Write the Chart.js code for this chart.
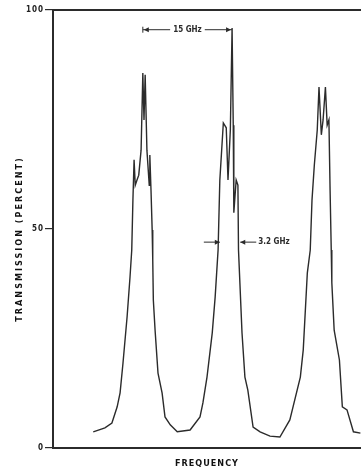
<!DOCTYPE html>
<html>
<head>
<meta charset="utf-8">
<script src="https://cdn.jsdelivr.net/npm/chart.js@4"></script>
<style>
  html, body { margin: 0; padding: 0; background: #fff; }
  #wrap { width: 361px; height: 471px; }
</style>
</head>
<body>
<div id="wrap"><canvas id="transmission"></canvas></div>
<script>
// frequency (GHz, arbitrary origin) and transmission (percent)
var freqGHz = [6.9, 8.9, 10.1, 11.0, 11.5, 12.0, 12.7, 13.2, 13.5, 13.7, 13.9, 14.1, 14.4, 14.7, 15.1, 15.4, 15.6, 15.8, 16.1, 16.5, 16.6, 16.8, 17.0, 17.1, 17.2, 17.5, 18.0, 18.7, 19.2, 20.1, 21.3, 23.5, 25.2, 25.7, 26.4, 27.3, 27.8, 28.3, 28.6, 29.2, 29.7, 30.0, 30.4, 30.7, 30.9, 31.0, 31.4, 31.7, 31.8, 32.4, 32.9, 33.4, 34.3, 35.5, 37.2, 38.9, 40.6, 42.4, 42.9, 43.6, 44.1, 44.4, 44.8, 45.3, 45.6, 46.0, 46.3, 46.7, 47.0, 47.3, 47.5, 47.7, 47.8, 48.2, 49.1, 49.6, 50.4, 51.5, 52.7];
var transmission = [3.7, 4.6, 5.7, 9.4, 12.6, 19.4, 29.9, 39.0, 45.2, 56.6, 65.8, 60.0, 61.2, 62.3, 68.0, 85.6, 74.9, 85.2, 68.0, 60.0, 66.9, 58.9, 49.8, 42.9, 33.8, 26.9, 17.1, 12.6, 7.1, 5.3, 3.7, 4.1, 7.1, 10.3, 16.2, 26.3, 34.5, 45.2, 61.2, 74.2, 73.1, 61.2, 72.6, 95.9, 73.7, 53.7, 61.2, 60.0, 45.2, 26.3, 16.2, 13.2, 4.8, 3.7, 2.7, 2.5, 6.4, 16.2, 22.4, 40.0, 45.2, 56.6, 64.6, 72.6, 82.4, 71.5, 74.9, 82.4, 73.7, 74.9, 58.9, 45.2, 37.7, 26.9, 20.1, 9.4, 8.7, 3.7, 3.4];
var yTicks = [0, 50, 100];
var yTitle = "TRANSMISSION (PERCENT)";

// annotations: peak spacing and peak width
var spacingMarks = [15.4, 30.7];
var spacingLevel = 95.5;
var spacingLabel = "15 GHz";
var widthMarks = [28.6, 32.1];
var widthLevel = 47;
var widthLabel = "3.2 GHz";

var ink = "#2b2b2b";
var fam = "'DejaVu Sans Condensed', 'DejaVu Sans', sans-serif";
var labelFont = "bold 8px " + fam;

function arrowHead(ctx, x, y, dir) {
  ctx.beginPath();
  ctx.moveTo(x, y);
  ctx.lineTo(x - dir * 5, y - 2.5);
  ctx.lineTo(x - dir * 5, y + 2.5);
  ctx.closePath();
  ctx.fill();
}

var frameAndNotes = {
  id: "frameAndNotes",
  beforeDraw: function(chart) {
    // typewriter-ish spacing for the axis lettering
    chart.ctx.letterSpacing = "1px";
  },
  beforeDatasetsDraw: function(chart) {
    chart.ctx.letterSpacing = "0px";
  },
  afterDatasetsDraw: function(chart) {
    var ctx = chart.ctx, a = chart.chartArea;
    var xs = chart.scales.x, ys = chart.scales.y;
    ctx.save();
    ctx.strokeStyle = ink;
    ctx.fillStyle = ink;
    // top frame line
    ctx.lineWidth = 2;
    ctx.beginPath();
    ctx.moveTo(a.left - 1, a.top);
    ctx.lineTo(a.right, a.top);
    ctx.stroke();

    // rotated y title
    ctx.save();
    ctx.fillStyle = "#111";
    ctx.font = "bold 9px " + fam;
    ctx.letterSpacing = "2px";
    ctx.translate(20, (a.top + a.bottom) / 2 + 10);
    ctx.rotate(-Math.PI / 2);
    ctx.textAlign = "center";
    ctx.textBaseline = "middle";
    ctx.fillText(yTitle, 0, 0);
    ctx.restore();

    ctx.font = labelFont;
    ctx.textBaseline = "middle";
    ctx.lineWidth = 1;

    // 15 GHz spacing marker
    var x1 = xs.getPixelForValue(spacingMarks[0]);
    var x2 = xs.getPixelForValue(spacingMarks[1]);
    var y = ys.getPixelForValue(spacingLevel);
    var tw = ctx.measureText(spacingLabel).width;
    var mid = (x1 + x2) / 2;
    ctx.textAlign = "center";
    ctx.fillText(spacingLabel, mid, y);
    ctx.beginPath();
    ctx.moveTo(x1, y); ctx.lineTo(mid - tw / 2 - 3, y);
    ctx.moveTo(mid + tw / 2 + 3, y); ctx.lineTo(x2, y);
    ctx.moveTo(x1, y - 3); ctx.lineTo(x1, y + 3);
    ctx.stroke();
    arrowHead(ctx, x1 + 1, y, -1);
    arrowHead(ctx, x2 - 1, y, 1);

    // 3.2 GHz width marker
    var w1 = xs.getPixelForValue(widthMarks[0]);
    var w2 = xs.getPixelForValue(widthMarks[1]);
    var wy = ys.getPixelForValue(widthLevel);
    ctx.beginPath();
    ctx.moveTo(w1 - 16, wy); ctx.lineTo(w1, wy);
    ctx.moveTo(w2 + 16, wy); ctx.lineTo(w2, wy);
    ctx.stroke();
    arrowHead(ctx, w1, wy, 1);
    arrowHead(ctx, w2, wy, -1);
    ctx.textAlign = "left";
    ctx.fillText(widthLabel, w2 + 18, wy);
    ctx.restore();
  }
};

new Chart("transmission", {
  type: "line",
  data: {
    datasets: [{
      data: freqGHz.map(function(f, i) { return { x: f, y: transmission[i] }; }),
      borderColor: ink,
      borderWidth: 1.4,
      pointRadius: 0,
      tension: 0,
      fill: false
    }]
  },
  options: {
    responsive: true,
    maintainAspectRatio: false,
    animation: false,
    layout: { padding: { top: 10, right: 0, left: 0, bottom: 0 } },
    plugins: { legend: { display: false }, tooltip: { enabled: false } },
    scales: {
      x: {
        type: "linear",
        min: 0,
        max: 52.8,
        afterFit: function(axis) { axis.height = 23; },
        grid: { display: false },
        ticks: { display: false },
        border: { color: ink, width: 2 },
        title: {
          display: true,
          text: "FREQUENCY",
          color: "#111",
          font: { family: fam, size: 9, weight: "bold" },
          padding: { top: 0, bottom: 2 }
        }
      },
      y: {
        min: 0,
        max: 100,
        afterFit: function(axis) { axis.width = 53; },
        afterBuildTicks: function(axis) { axis.ticks = yTicks.map(function(v) { return { value: v }; }); },
        grid: { drawOnChartArea: false, color: ink, tickLength: 8, lineWidth: 1.2 },
        border: { color: ink, width: 2 },
        ticks: {
          color: "#222",
          padding: 1,
          font: { family: fam, size: 8, weight: "bold" }
        }
      }
    }
  },
  plugins: [frameAndNotes]
});
</script>
</body>
</html>
